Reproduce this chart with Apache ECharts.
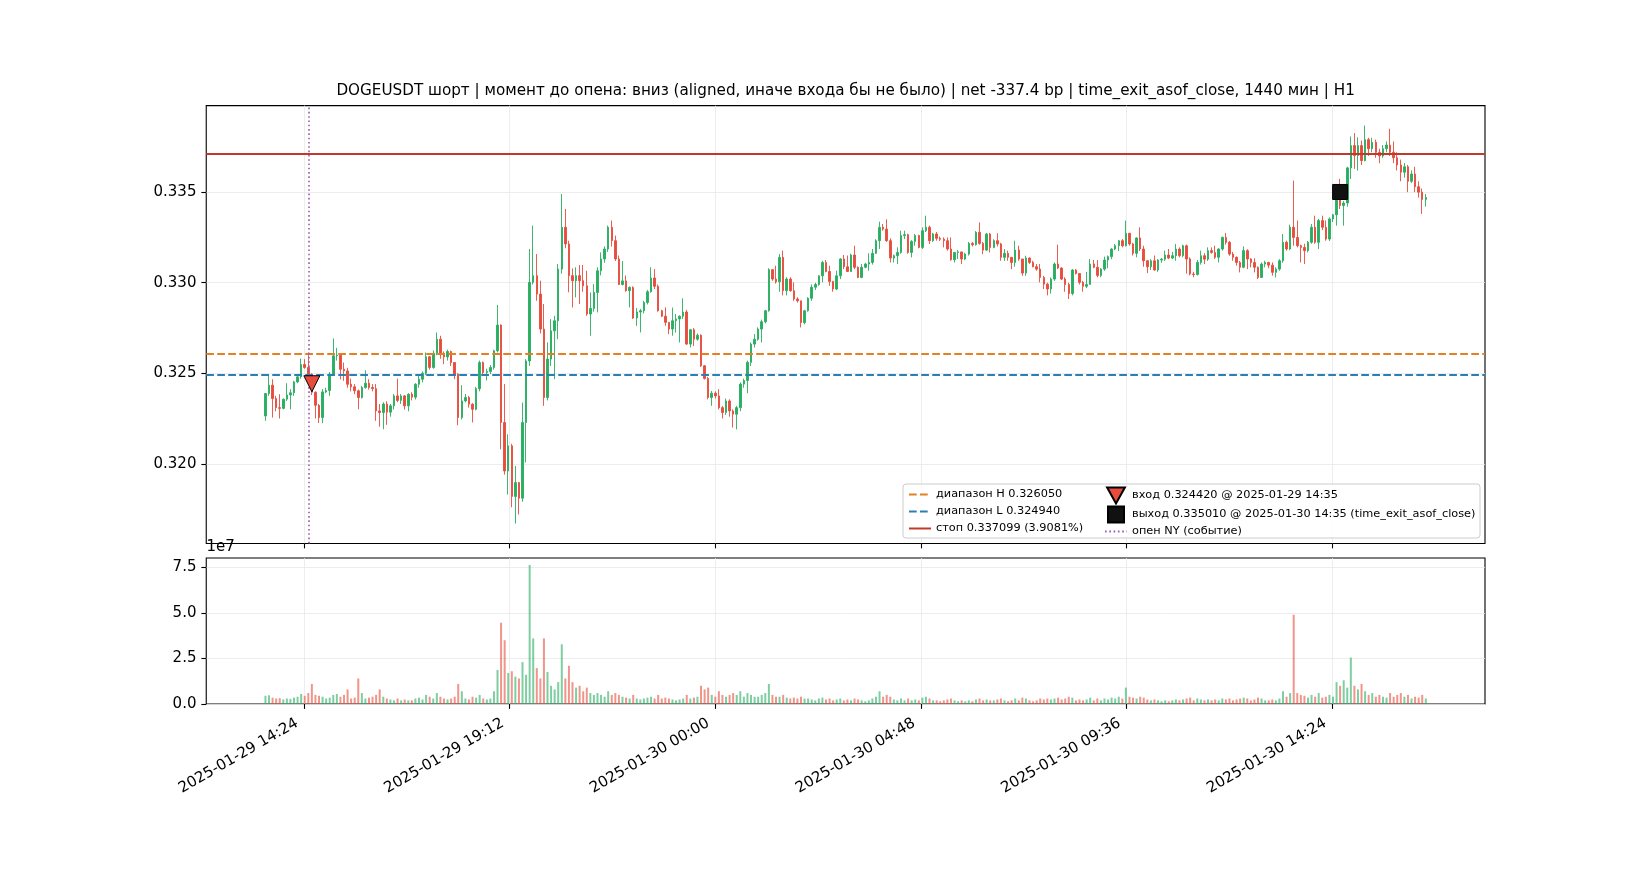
<!DOCTYPE html>
<html lang="ru">
<head>
    <meta charset="UTF-8">
    <title>DOGEUSDT short</title>
    <script src="https://cdn.jsdelivr.net/npm/echarts@6/dist/echarts.min.js"></script>
    <style>
        html, body { margin: 0; padding: 0; background: #fff; }
        #chart { width: 1650px; height: 880px; }
    </style>
</head>
<body>
<div id="chart"></div>
<script type="text/javascript">
    // 5-minute candles, first one at 13:30 UTC
    var firstCandle = '2025-01-29 13:30';
    var candleMinutes = 5;
    var firstOpen = 0.32264;

    var closes = [
        0.32388, 0.32434, 0.32360, 0.32310, 0.32306, 0.32357, 0.32380, 0.32392, 0.32452, 0.32480,
        0.32548, 0.32532, 0.32495, 0.32395, 0.32323, 0.32255, 0.32397, 0.32405, 0.32495, 0.32596,
        0.32600, 0.32522, 0.32513, 0.32439, 0.32425, 0.32403, 0.32366, 0.32421, 0.32445, 0.32421,
        0.32415, 0.32292, 0.32283, 0.32330, 0.32285, 0.32320, 0.32375, 0.32350, 0.32375, 0.32320,
        0.32384, 0.32368, 0.32439, 0.32467, 0.32500, 0.32591, 0.32532, 0.32610, 0.32688, 0.32605,
        0.32590, 0.32620, 0.32559, 0.32495, 0.32255, 0.32347, 0.32366, 0.32329, 0.32301, 0.32415,
        0.32559, 0.32504, 0.32510, 0.32532, 0.32624, 0.32766, 0.32228, 0.31960, 0.32099, 0.31820,
        0.31896, 0.31810, 0.32228, 0.32568, 0.33002, 0.33039, 0.32937, 0.32744, 0.32366, 0.32578,
        0.32734, 0.32790, 0.33075, 0.33306, 0.33214, 0.33039, 0.33011, 0.33039, 0.33011, 0.32983,
        0.32827, 0.32858, 0.32946, 0.33066, 0.33131, 0.33186, 0.33306, 0.33232, 0.33131, 0.32990,
        0.33010, 0.32956, 0.32974, 0.32805, 0.32838, 0.32845, 0.32891, 0.32950, 0.33026, 0.32980,
        0.32845, 0.32815, 0.32781, 0.32744, 0.32790, 0.32800, 0.32815, 0.32838, 0.32661, 0.32740,
        0.32688, 0.32710, 0.32541, 0.32471, 0.32366, 0.32390, 0.32375, 0.32310, 0.32283, 0.32347,
        0.32292, 0.32274, 0.32310, 0.32440, 0.32460, 0.32560, 0.32661, 0.32688, 0.32744, 0.32784,
        0.32845, 0.33072, 0.33020, 0.33005, 0.33140, 0.32956, 0.33020, 0.32956, 0.32910, 0.32900,
        0.32780, 0.32845, 0.32914, 0.32975, 0.32990, 0.33038, 0.33112, 0.33062, 0.33007, 0.32965,
        0.33038, 0.33131, 0.33088, 0.33062, 0.33153, 0.33085, 0.33029, 0.33085, 0.33103, 0.33112,
        0.33162, 0.33232, 0.33306, 0.33296, 0.33232, 0.33136, 0.33149, 0.33167, 0.33260, 0.33265,
        0.33167, 0.33228, 0.33260, 0.33195, 0.33287, 0.33306, 0.33232, 0.33269, 0.33245, 0.33240,
        0.33232, 0.33186, 0.33127, 0.33167, 0.33170, 0.33131, 0.33158, 0.33217, 0.33210, 0.33278,
        0.33217, 0.33180, 0.33269, 0.33195, 0.33232, 0.33214, 0.33140, 0.33162, 0.33140, 0.33112,
        0.33180, 0.33131, 0.33053, 0.33136, 0.33112, 0.33088, 0.33075, 0.33029, 0.32992, 0.32965,
        0.33020, 0.33103, 0.33081, 0.33020, 0.32990, 0.32940, 0.33070, 0.33051, 0.33002, 0.32980,
        0.32990, 0.33103, 0.33085, 0.33040, 0.33075, 0.33125, 0.33144, 0.33186, 0.33204, 0.33232,
        0.33204, 0.33273, 0.33214, 0.33162, 0.33247, 0.33186, 0.33121, 0.33088, 0.33121, 0.33070,
        0.33125, 0.33130, 0.33153, 0.33136, 0.33149, 0.33186, 0.33149, 0.33204, 0.33131, 0.33048,
        0.33045, 0.33112, 0.33149, 0.33130, 0.33177, 0.33167, 0.33140, 0.33186, 0.33250, 0.33223,
        0.33158, 0.33140, 0.33112, 0.33085, 0.33177, 0.33131, 0.33112, 0.33085, 0.33029, 0.33103,
        0.33112, 0.33097, 0.33057, 0.33075, 0.33121, 0.33223, 0.33186, 0.33306, 0.33250, 0.33204,
        0.33195, 0.33177, 0.33223, 0.33306, 0.33223, 0.33343, 0.33306, 0.33241, 0.33352, 0.33375,
        0.33462, 0.33426, 0.33440, 0.33634, 0.33757, 0.33702, 0.33757, 0.33674, 0.33790, 0.33740,
        0.33775, 0.33720, 0.33700, 0.33740, 0.33760, 0.33720, 0.33690, 0.33650, 0.33610, 0.33640,
        0.33560, 0.33600, 0.33530, 0.33500, 0.33460, 0.33470
    ];

    var highs = [
        0.32390, 0.32495, 0.32467, 0.32375, 0.32384, 0.32360, 0.32445, 0.32412, 0.32458, 0.32485,
        0.32581, 0.32578, 0.32615, 0.32500, 0.32400, 0.32330, 0.32412, 0.32420, 0.32507, 0.32692,
        0.32640, 0.32605, 0.32559, 0.32530, 0.32470, 0.32440, 0.32410, 0.32430, 0.32516, 0.32467,
        0.32440, 0.32440, 0.32330, 0.32340, 0.32345, 0.32330, 0.32385, 0.32470, 0.32385, 0.32380,
        0.32390, 0.32395, 0.32445, 0.32485, 0.32510, 0.32615, 0.32595, 0.32625, 0.32725, 0.32707,
        0.32620, 0.32630, 0.32625, 0.32560, 0.32500, 0.32434, 0.32385, 0.32375, 0.32335, 0.32425,
        0.32570, 0.32565, 0.32525, 0.32545, 0.32630, 0.32877, 0.32770, 0.32440, 0.32163, 0.32110,
        0.31988, 0.31900, 0.32338, 0.32578, 0.33186, 0.33315, 0.33158, 0.33011, 0.32882, 0.32670,
        0.32799, 0.32817, 0.33103, 0.33490, 0.33407, 0.33232, 0.33079, 0.33085, 0.33098, 0.33098,
        0.33066, 0.32946, 0.32992, 0.33085, 0.33167, 0.33200, 0.33315, 0.33343, 0.33260, 0.33150,
        0.33120, 0.33040, 0.32980, 0.32980, 0.32860, 0.32855, 0.32900, 0.32960, 0.33085, 0.33075,
        0.32990, 0.32850, 0.32864, 0.32781, 0.32863, 0.32827, 0.32820, 0.32914, 0.32850, 0.32745,
        0.32750, 0.32720, 0.32715, 0.32545, 0.32480, 0.32402, 0.32400, 0.32412, 0.32320, 0.32360,
        0.32356, 0.32300, 0.32320, 0.32450, 0.32470, 0.32570, 0.32670, 0.32716, 0.32753, 0.32796,
        0.32850, 0.33080, 0.33075, 0.33094, 0.33158, 0.33177, 0.33030, 0.33030, 0.33002, 0.32920,
        0.32895, 0.32850, 0.32920, 0.32990, 0.33000, 0.33040, 0.33121, 0.33125, 0.33094, 0.33010,
        0.33066, 0.33135, 0.33153, 0.33150, 0.33160, 0.33204, 0.33090, 0.33103, 0.33110, 0.33162,
        0.33186, 0.33240, 0.33337, 0.33324, 0.33350, 0.33245, 0.33155, 0.33195, 0.33287, 0.33287,
        0.33270, 0.33235, 0.33269, 0.33265, 0.33306, 0.33370, 0.33315, 0.33275, 0.33280, 0.33255,
        0.33250, 0.33250, 0.33250, 0.33170, 0.33180, 0.33170, 0.33165, 0.33225, 0.33225, 0.33285,
        0.33333, 0.33225, 0.33275, 0.33275, 0.33240, 0.33273, 0.33220, 0.33186, 0.33177, 0.33140,
        0.33232, 0.33204, 0.33131, 0.33149, 0.33140, 0.33121, 0.33103, 0.33103, 0.33038, 0.33000,
        0.33029, 0.33112, 0.33210, 0.33085, 0.33030, 0.33000, 0.33075, 0.33075, 0.33030, 0.33010,
        0.33060, 0.33131, 0.33125, 0.33125, 0.33080, 0.33144, 0.33150, 0.33190, 0.33214, 0.33235,
        0.33241, 0.33343, 0.33270, 0.33220, 0.33250, 0.33306, 0.33204, 0.33125, 0.33130, 0.33150,
        0.33130, 0.33135, 0.33177, 0.33186, 0.33170, 0.33214, 0.33195, 0.33210, 0.33210, 0.33140,
        0.33060, 0.33125, 0.33177, 0.33163, 0.33195, 0.33195, 0.33204, 0.33190, 0.33255, 0.33275,
        0.33230, 0.33170, 0.33145, 0.33120, 0.33200, 0.33185, 0.33135, 0.33135, 0.33090, 0.33112,
        0.33121, 0.33115, 0.33112, 0.33085, 0.33130, 0.33269, 0.33232, 0.33320, 0.33564, 0.33343,
        0.33210, 0.33215, 0.33230, 0.33324, 0.33370, 0.33352, 0.33370, 0.33343, 0.33361, 0.33379,
        0.33536, 0.33573, 0.33450, 0.33640, 0.33807, 0.33826, 0.33803, 0.33785, 0.33868, 0.33800,
        0.33800, 0.33790, 0.33740, 0.33760, 0.33780, 0.33850, 0.33780, 0.33720, 0.33680, 0.33660,
        0.33650, 0.33620, 0.33640, 0.33560, 0.33520, 0.33490
    ];

    var lows = [
        0.32237, 0.32375, 0.32255, 0.32290, 0.32250, 0.32301, 0.32347, 0.32301, 0.32375, 0.32445,
        0.32470, 0.32525, 0.32485, 0.32380, 0.32250, 0.32225, 0.32224, 0.32390, 0.32375, 0.32485,
        0.32570, 0.32466, 0.32458, 0.32420, 0.32400, 0.32384, 0.32301, 0.32360, 0.32415, 0.32410,
        0.32400, 0.32237, 0.32205, 0.32191, 0.32215, 0.32260, 0.32300, 0.32340, 0.32330, 0.32300,
        0.32290, 0.32350, 0.32355, 0.32420, 0.32450, 0.32490, 0.32520, 0.32525, 0.32600, 0.32580,
        0.32550, 0.32570, 0.32540, 0.32467, 0.32213, 0.32245, 0.32340, 0.32310, 0.32228, 0.32295,
        0.32400, 0.32490, 0.32460, 0.32495, 0.32520, 0.32615, 0.32080, 0.31940, 0.31830, 0.31760,
        0.31670, 0.31720, 0.31790, 0.32007, 0.32540, 0.32990, 0.32900, 0.32720, 0.32320, 0.32350,
        0.32540, 0.32467, 0.32688, 0.33050, 0.33190, 0.32947, 0.32863, 0.32919, 0.32882, 0.32950,
        0.32817, 0.32707, 0.32840, 0.32836, 0.33040, 0.33110, 0.33170, 0.33200, 0.33120, 0.32987,
        0.32985, 0.32950, 0.32863, 0.32800, 0.32762, 0.32725, 0.32830, 0.32880, 0.32945, 0.32965,
        0.32840, 0.32810, 0.32762, 0.32716, 0.32707, 0.32725, 0.32670, 0.32800, 0.32657, 0.32642,
        0.32650, 0.32680, 0.32535, 0.32465, 0.32356, 0.32320, 0.32360, 0.32300, 0.32250, 0.32270,
        0.32260, 0.32200, 0.32190, 0.32290, 0.32420, 0.32390, 0.32540, 0.32642, 0.32680, 0.32670,
        0.32775, 0.32840, 0.33010, 0.32995, 0.32950, 0.32930, 0.32930, 0.32950, 0.32900, 0.32890,
        0.32753, 0.32770, 0.32840, 0.32900, 0.32960, 0.32983, 0.33002, 0.33057, 0.32983, 0.32950,
        0.32960, 0.33020, 0.33075, 0.33060, 0.33060, 0.33075, 0.33025, 0.33025, 0.33080, 0.33066,
        0.33100, 0.33160, 0.33186, 0.33287, 0.33225, 0.33112, 0.33112, 0.33103, 0.33160, 0.33241,
        0.33160, 0.33140, 0.33204, 0.33190, 0.33186, 0.33280, 0.33214, 0.33225, 0.33232, 0.33230,
        0.33195, 0.33177, 0.33121, 0.33112, 0.33131, 0.33103, 0.33125, 0.33150, 0.33200, 0.33205,
        0.33210, 0.33158, 0.33175, 0.33167, 0.33190, 0.33200, 0.33121, 0.33121, 0.33121, 0.33075,
        0.33088, 0.33121, 0.33038, 0.33038, 0.33103, 0.33085, 0.33066, 0.33002, 0.32965, 0.32930,
        0.32940, 0.33010, 0.33075, 0.33015, 0.32950, 0.32910, 0.32930, 0.33045, 0.32990, 0.32950,
        0.32970, 0.32990, 0.33080, 0.33029, 0.33030, 0.33066, 0.33080, 0.33130, 0.33180, 0.33175,
        0.33195, 0.33200, 0.33204, 0.33150, 0.33140, 0.33175, 0.33088, 0.33053, 0.33070, 0.33066,
        0.33060, 0.33110, 0.33120, 0.33130, 0.33130, 0.33121, 0.33140, 0.33140, 0.33050, 0.33040,
        0.33030, 0.33040, 0.33100, 0.33103, 0.33120, 0.33160, 0.33131, 0.33112, 0.33177, 0.33210,
        0.33149, 0.33121, 0.33094, 0.33057, 0.33080, 0.33075, 0.33085, 0.33057, 0.33020, 0.33029,
        0.33085, 0.33080, 0.33039, 0.33029, 0.33066, 0.33110, 0.33177, 0.33180, 0.33204, 0.33195,
        0.33112, 0.33103, 0.33167, 0.33215, 0.33215, 0.33186, 0.33290, 0.33232, 0.33230, 0.33335,
        0.33315, 0.33407, 0.33315, 0.33420, 0.33573, 0.33628, 0.33619, 0.33650, 0.33670, 0.33700,
        0.33720, 0.33690, 0.33660, 0.33690, 0.33720, 0.33700, 0.33660, 0.33620, 0.33560, 0.33580,
        0.33500, 0.33550, 0.33500, 0.33470, 0.33380, 0.33420
    ];

    // volume, millions of coins per candle
    var volumesM = [
        4.5, 4.8, 3.5, 3.0, 3.2, 2.5, 3.0, 2.8, 3.5, 4.0,
        5.5, 4.5, 6.0, 11.0, 5.0, 4.5, 4.0, 3.0, 3.5, 5.0,
        5.5, 4.0, 5.0, 8.0, 3.0, 3.5, 14.0, 6.0, 3.0, 3.5,
        4.0, 5.0, 8.0, 4.0, 3.0, 2.5, 2.0, 3.0, 2.0, 2.5,
        2.0, 2.0, 3.0, 3.5, 2.5, 5.0, 4.0, 3.0, 6.0, 4.0,
        3.0, 2.5, 3.0, 4.0, 11.0, 7.0, 3.0, 2.5, 4.0, 3.5,
        5.0, 3.0, 2.5, 3.0, 7.0, 18.7, 44.6, 35.0, 17.0, 18.0,
        15.0, 14.0, 23.0, 16.0, 76.3, 36.0, 19.7, 14.0, 36.0, 17.6,
        10.0, 8.0, 12.0, 32.8, 14.0, 21.0, 12.0, 9.0, 10.0, 7.0,
        9.0, 6.0, 5.0, 6.0, 5.0, 4.0, 7.0, 5.0, 6.0, 5.0,
        4.0, 3.5, 3.0, 5.0, 3.0, 2.5, 3.0, 3.5, 4.0, 3.0,
        5.0, 3.0, 3.5, 3.0, 2.5, 2.0, 2.5, 3.0, 5.0, 3.0,
        3.5, 4.0, 10.0, 8.0, 9.0, 5.0, 4.0, 7.0, 5.0, 4.0,
        5.0, 6.0, 5.0, 7.0, 4.0, 6.0, 5.0, 4.0, 4.0, 5.0,
        6.0, 11.0, 5.0, 4.0, 4.0, 5.0, 3.5, 3.0, 3.5, 3.0,
        4.0, 3.0, 3.0, 2.5, 2.0, 3.0, 3.5, 2.5, 3.0, 2.0,
        2.5, 3.0, 2.0, 2.5, 2.0, 3.0, 2.5, 2.0, 1.5, 2.0,
        3.0, 4.0, 7.0, 4.0, 5.0, 4.0, 2.5, 2.0, 3.0, 2.0,
        3.0, 2.0, 2.5, 2.0, 3.5, 4.0, 3.0, 2.0, 2.0, 1.5,
        2.0, 2.5, 3.0, 2.0, 1.5, 2.0, 1.5, 2.0, 1.5, 2.5,
        3.0, 2.0, 2.5, 2.0, 2.0, 2.5, 3.0, 2.0, 1.5, 2.0,
        3.0, 2.0, 3.5, 3.0, 2.0, 1.5, 2.0, 3.0, 2.5, 3.0,
        2.5, 3.0, 3.5, 2.5, 3.0, 4.0, 3.5, 2.0, 2.5, 2.0,
        2.5, 3.5, 2.0, 3.0, 2.0, 3.0, 2.5, 3.5, 3.0, 4.0,
        3.0, 9.0, 4.0, 3.5, 3.0, 4.0, 3.5, 2.5, 2.0, 2.5,
        2.0, 1.5, 2.0, 1.5, 2.0, 2.5, 2.0, 2.5, 3.0, 3.5,
        2.0, 3.0, 2.5, 2.0, 2.5, 2.0, 2.5, 2.0, 3.0, 2.5,
        3.0, 2.0, 2.5, 3.0, 3.5, 3.0, 2.0, 2.5, 3.5, 3.0,
        2.0, 2.0, 2.5, 2.0, 3.0, 7.0, 4.0, 6.0, 49.0, 6.0,
        5.0, 4.5, 3.5, 5.0, 4.0, 6.0, 3.5, 4.0, 5.0, 4.0,
        12.0, 10.0, 13.0, 9.0, 25.5, 10.0, 8.0, 11.0, 7.0, 5.0,
        6.0, 4.0, 5.0, 4.0, 3.5, 6.0, 4.0, 5.0, 6.0, 4.0,
        5.0, 3.0, 4.0, 3.5, 5.0, 3.0
    ];

    var rangeHigh = 0.326050;
    var rangeLow = 0.324940;
    var stopPrice = 0.337099;
    var entryTime = '2025-01-29 14:35';
    var entryPrice = 0.324420;
    var exitTime = '2025-01-30 14:35';
    var exitPrice = 0.335010;
    var nyOpenTime = '2025-01-29 14:30';

    var xTickLabels = ['2025-01-29 14:24', '2025-01-29 19:12', '2025-01-30 00:00',
        '2025-01-30 04:48', '2025-01-30 09:36', '2025-01-30 14:24'];
    var priceTicks = [0.320, 0.325, 0.330, 0.335];
    var volumeTicks = [0, 2.5e7, 5.0e7, 7.5e7];

    var titleText = 'DOGEUSDT шорт | момент до опена: вниз (aligned, иначе входа бы не было) | net -337.4 bp | time_exit_asof_close, 1440 мин | H1';
    var nameHigh = 'диапазон H 0.326050';
    var nameLow = 'диапазон L 0.324940';
    var nameStop = 'стоп 0.337099 (3.9081%)';
    var nameEntry = 'вход 0.324420 @ 2025-01-29 14:35';
    var nameExit = 'выход 0.335010 @ 2025-01-30 14:35 (time_exit_asof_close)';
    var nameNy = 'опен NY (событие)';

    var upColor = '#27ae60';
    var downColor = '#e74c3c';
    var font = 'DejaVu Sans';
    var tickFont = 15;

    function parseUtc(s) {
        return Date.parse(s.replace(' ', 'T') + ':00Z');
    }
    function pad2(n) {
        return (n < 10 ? '0' : '') + n;
    }
    function fmtUtc(ms) {
        var d = new Date(ms);
        return d.getUTCFullYear() + '-' + pad2(d.getUTCMonth() + 1) + '-' + pad2(d.getUTCDate()) +
            ' ' + pad2(d.getUTCHours()) + ':' + pad2(d.getUTCMinutes());
    }

    var t0 = parseUtc(firstCandle);
    var step = candleMinutes * 60000;
    var candleData = [];
    var volumeData = [];
    var prevClose = firstOpen;
    for (var i = 0; i < closes.length; i++) {
        var t = t0 + i * step;
        var o = prevClose, c = closes[i];
        var lo = Math.min(lows[i], o, c), hi = Math.max(highs[i], o, c);
        candleData.push([t, o, c, lo, hi]);
        var up = c >= o;
        volumeData.push({
            value: [t, volumesM[i] * 1e6],
            itemStyle: {color: up ? 'rgba(39,174,96,0.6)' : 'rgba(231,76,60,0.6)'}
        });
        prevClose = c;
    }

    // axis extents like matplotlib autoscale (5% margins)
    var halfBar = 1.5 * 60000;
    var xLo = t0 - halfBar, xHi = t0 + (closes.length - 1) * step + halfBar;
    var xPad = 0.05 * (xHi - xLo);
    var pLo = Math.min.apply(null, lows), pHi = Math.max.apply(null, highs);
    var pPad = 0.05 * (pHi - pLo);
    var vMax = Math.max.apply(null, volumesM) * 1e6 * 1.05;

    var xTicks = xTickLabels.map(parseUtc);
    var gridLine = {show: true, lineStyle: {color: '#e8e8e8', width: 0.8}};
    var tickStyle = {show: true, length: 4.9, lineStyle: {color: '#000', width: 1.1}};
    var labelStyle = {fontFamily: font, fontSize: tickFont, color: '#000'};
    var legendText = {fontFamily: font, fontSize: 11.3, color: '#000', lineHeight: 14};

    function levelSeries(name, value, color, width, dash, onX) {
        var style = {color: color, width: width, type: dash};
        var point = onX ? {xAxis: value} : {yAxis: value};
        return {
            name: name, type: 'line', symbol: 'none', data: [],
            xAxisIndex: 0, yAxisIndex: 0,
            lineStyle: style,
            itemStyle: {color: color, opacity: 0},
            markLine: {silent: true, precision: 8, symbol: ['none', 'none'],
                label: {show: false}, lineStyle: style, data: [point]}
        };
    }

    var chart = echarts.init(document.getElementById('chart'));
    var option = {
        animation: false,
        backgroundColor: '#fff',
        grid: [
            {left: 206.25, top: 105.6, width: 1278.75, height: 437.85,
                show: true, borderColor: '#000', borderWidth: 1.1, backgroundColor: 'rgba(0,0,0,0)'},
            {left: 206.25, top: 558.05, width: 1278.75, height: 145.95,
                show: true, borderColor: '#000', borderWidth: 1.1, backgroundColor: 'rgba(0,0,0,0)'}
        ],
        xAxis: [
            {
                gridIndex: 0, type: 'value', min: xLo - xPad, max: xHi + xPad,
                axisLine: {show: false},
                axisTick: Object.assign({customValues: xTicks}, tickStyle),
                axisLabel: {show: false, customValues: xTicks},
                splitLine: gridLine
            },
            {
                gridIndex: 1, type: 'value', min: xLo - xPad, max: xHi + xPad,
                axisLine: {show: false},
                axisTick: Object.assign({customValues: xTicks}, tickStyle),
                axisLabel: Object.assign({
                    customValues: xTicks, rotate: 30, margin: 14, padding: [0, 8, 0, 0],
                    formatter: function (v) { return fmtUtc(v); }
                }, labelStyle),
                splitLine: gridLine
            }
        ],
        yAxis: [
            {
                gridIndex: 0, type: 'value', min: pLo - pPad, max: pHi + pPad,
                axisLine: {show: false},
                axisTick: Object.assign({customValues: priceTicks}, tickStyle),
                axisLabel: Object.assign({
                    customValues: priceTicks, margin: 9.8,
                    formatter: function (v) { return v.toFixed(3); }
                }, labelStyle),
                splitLine: gridLine
            },
            {
                gridIndex: 1, type: 'value', min: 0, max: vMax,
                axisLine: {show: false},
                axisTick: Object.assign({customValues: volumeTicks}, tickStyle),
                axisLabel: Object.assign({
                    customValues: volumeTicks, margin: 9.8,
                    formatter: function (v) { return (v / 1e7).toFixed(1); }
                }, labelStyle),
                splitLine: gridLine
            }
        ],
        legend: [
            {
                data: [
                    {name: nameHigh, itemStyle: {opacity: 0}},
                    {name: nameLow, itemStyle: {opacity: 0}},
                    {name: nameStop, itemStyle: {opacity: 0}}
                ],
                orient: 'vertical', left: 908, top: 487.5, padding: 0,
                itemWidth: 22, itemHeight: 14, itemGap: 3,
                selectedMode: false, z: 60, textStyle: legendText
            },
            {
                data: [
                    {name: nameEntry, icon: 'path://M0,0 L20,0 L10,18 Z'},
                    {name: nameExit, icon: 'path://M0,0 L10,0 L10,10 L0,10 Z'},
                    {name: nameNy, itemStyle: {opacity: 0}}
                ],
                orient: 'vertical', left: 1104, top: 486.5, padding: 0,
                itemWidth: 22, itemHeight: 16, itemGap: 1,
                selectedMode: false, z: 60, textStyle: legendText
            }
        ],
        graphic: [
            {
                type: 'text', x: 845.6, y: 91.5, z: 60,
                style: {text: titleText, fill: '#000', font: '15.2px "DejaVu Sans"',
                    align: 'center', verticalAlign: 'middle'}
            },
            {
                type: 'text', x: 206.5, y: 540, z: 60,
                style: {text: '1e7', fill: '#000', font: tickFont + 'px "DejaVu Sans"'}
            },
            {
                type: 'rect', z: 50,
                shape: {x: 903, y: 484, width: 577, height: 54, r: 3},
                style: {fill: 'rgba(255,255,255,0.8)', stroke: '#cccccc', lineWidth: 1}
            }
        ],
        series: [
            {
                type: 'candlestick', xAxisIndex: 0, yAxisIndex: 0,
                data: candleData, encode: {x: 0, y: [1, 2, 3, 4]},
                barWidth: 2,
                itemStyle: {color: upColor, color0: downColor, borderColor: upColor,
                    borderColor0: downColor, borderWidth: 0.9}
            },
            {
                type: 'bar', xAxisIndex: 1, yAxisIndex: 1,
                data: volumeData, barWidth: 2
            },
            levelSeries(nameHigh, rangeHigh, '#e67e22', 2, [7.7, 3.3], false),
            levelSeries(nameLow, rangeLow, '#2980b9', 2, [7.7, 3.3], false),
            levelSeries(nameStop, stopPrice, '#c0392b', 2, 'solid', false),
            levelSeries(nameNy, parseUtc(nyOpenTime), '#9b59b6', 1.6, [1.6, 2.7], true),
            {
                name: nameEntry, type: 'scatter', xAxisIndex: 0, yAxisIndex: 0, z: 5,
                symbol: 'triangle', symbolRotate: 180, symbolSize: 16,
                itemStyle: {color: downColor, borderColor: '#000', borderWidth: 1, opacity: 1},
                data: [[parseUtc(entryTime), entryPrice]]
            },
            {
                name: nameExit, type: 'scatter', xAxisIndex: 0, yAxisIndex: 0, z: 5,
                symbol: 'rect', symbolSize: 15,
                itemStyle: {color: '#111111', borderColor: '#000', borderWidth: 1, opacity: 1},
                data: [[parseUtc(exitTime), exitPrice]]
            }
        ]
    };
    chart.setOption(option);
</script>
</body>
</html>
